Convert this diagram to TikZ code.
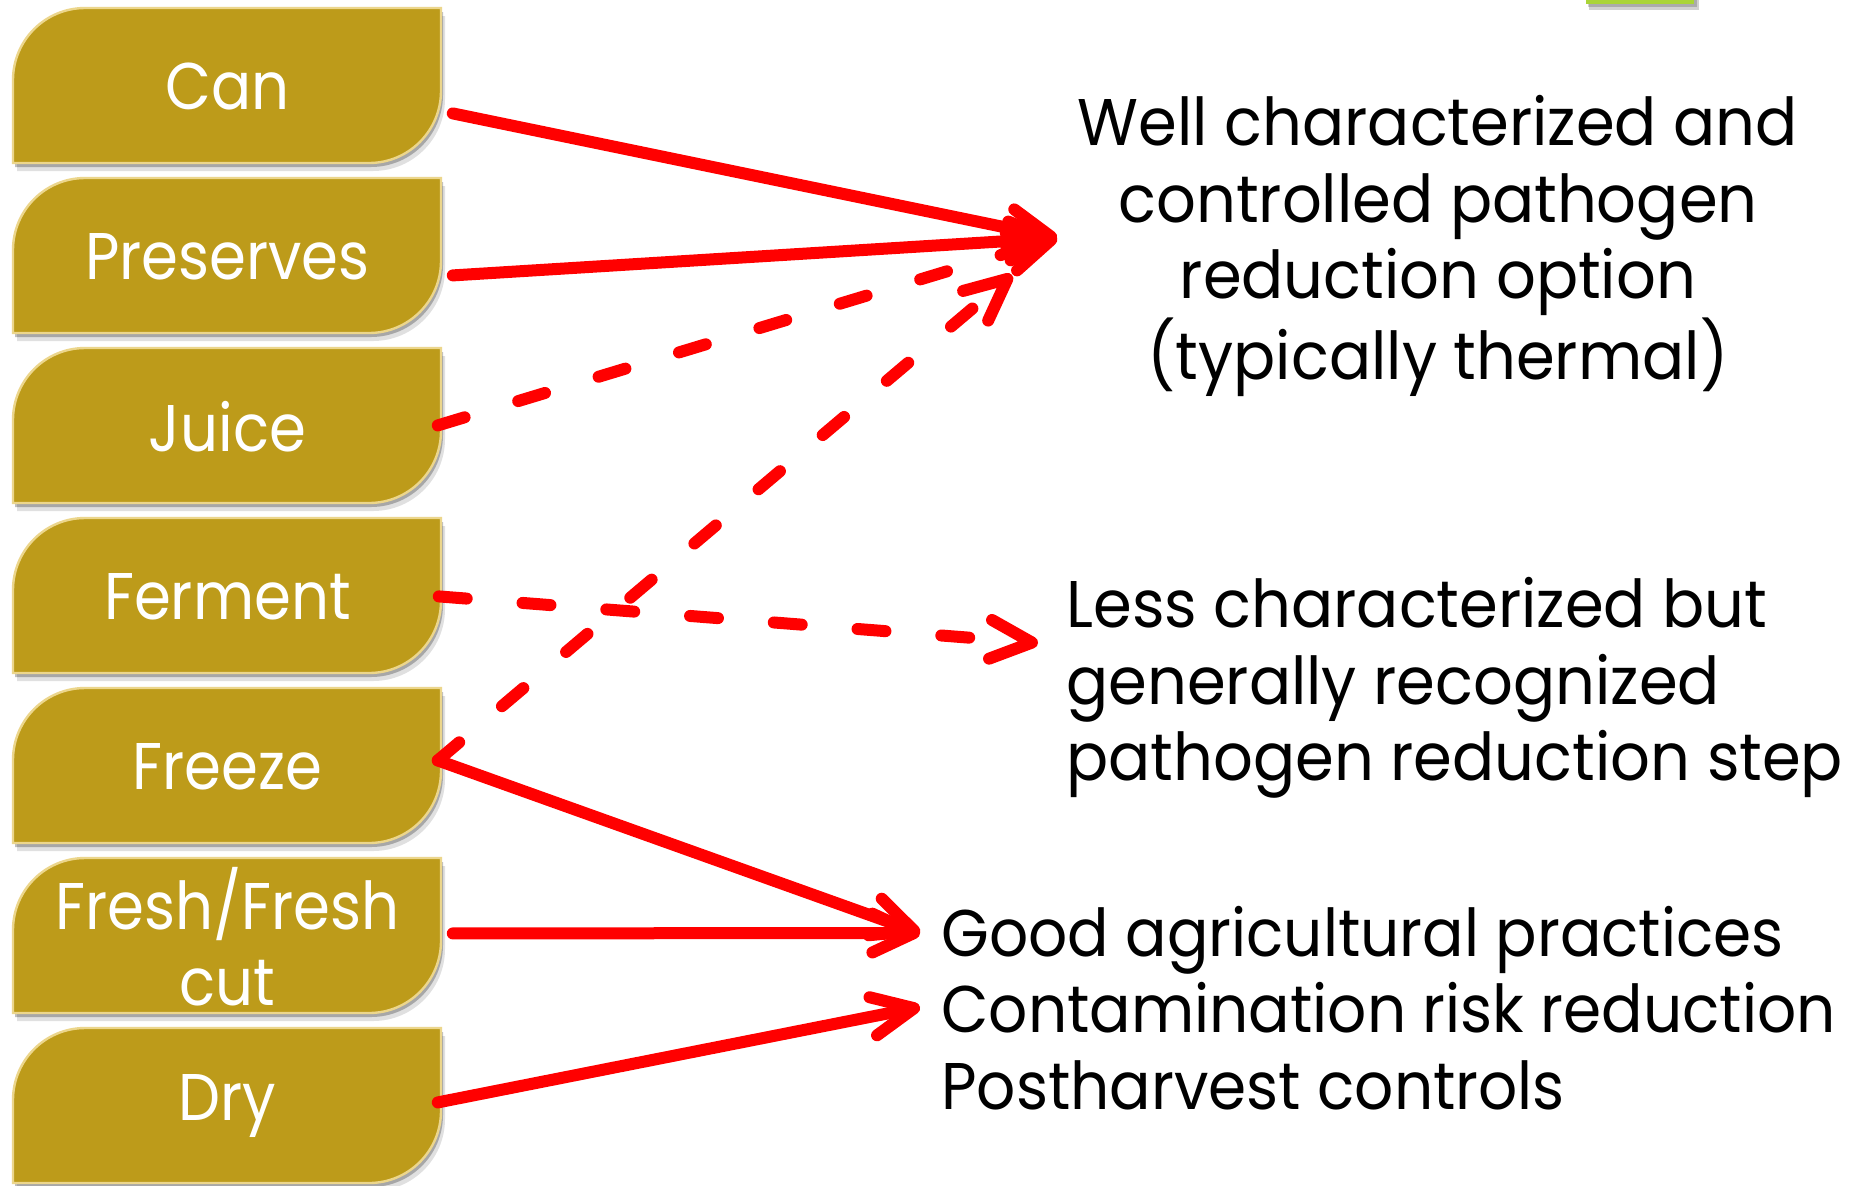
\documentclass[tikz,border=0pt]{standalone}
\usepackage{fontspec}
\setmainfont{Poppins}
\newfontfamily\boxfont{Poppins}[FakeStretch=0.9]
\newfontfamily\rfont{Poppins}[FakeStretch=0.945]
\newfontfamily\gfont{Poppins}[FakeStretch=0.93]
\usetikzlibrary{arrows.meta}
\definecolor{gold}{RGB}{189,155,26}
\definecolor{goldedge}{RGB}{236,214,140}
\definecolor{lime}{RGB}{170,212,56}
\begin{document}
\begin{tikzpicture}[x=0.5pt,y=-0.5pt,
  boxtext/.style={minimum width=214pt,minimum height=78pt,inner sep=0pt,anchor=north west,text=white,font=\boxfont\fontsize{33}{38}\selectfont,align=center},
  arr/.style={draw=red,line width=6pt,line cap=round,line join=round,-{Straight Barb[length=20.8pt,width=19.4pt,line cap=round,line join=round]}},
  dashedarr/.style={arr,dash pattern=on 14pt off 28pt},
  rtext/.style={font=\rfont\fontsize{33}{38.2}\selectfont,inner sep=0pt,text=black}
]
\useasboundingbox (0,0) rectangle (1851,1185);
\fill[white] (0,0) rectangle (1851,1185);
% small green tab at top right
\fill[black,opacity=0.18] (1589,0) rectangle (1699,10);
\fill[black,opacity=0.18] (1588,0) rectangle (1697,7);
\fill[lime] (1586,-5) rectangle (1694,4);
% box shapes
\foreach \t in {8,178,348,518,688,858,1028}{
  \begin{scope}[shift={(4,8)}]
    \fill[black,opacity=0.12] (13,\t+155) -- (13,\t+72) arc[start angle=180,end angle=90,radius=36pt] -- (441,\t) -- (441,\t+83) arc[start angle=0,end angle=-90,radius=36pt] -- cycle;
  \end{scope}
  \begin{scope}[shift={(2,4)}]
    \fill[black,opacity=0.25] (13,\t+155) -- (13,\t+72) arc[start angle=180,end angle=90,radius=36pt] -- (441,\t) -- (441,\t+83) arc[start angle=0,end angle=-90,radius=36pt] -- cycle;
  \end{scope}
  \filldraw[fill=gold,draw=goldedge,line width=1.2pt] (13,\t+155) -- (13,\t+72) arc[start angle=180,end angle=90,radius=36pt] -- (441,\t) -- (441,\t+83) arc[start angle=0,end angle=-90,radius=36pt] -- cycle;
}
% box labels
\node[boxtext] (can) at (13,8) {Can};
\node[boxtext] (pres) at (13,178) {Preserves};
\node[boxtext] (juice) at (13,348) {Juice};
\node[boxtext] (ferm) at (13,518) {Ferment};
\node[boxtext] (freeze) at (13,688) {Freeze};
\node[boxtext] (fresh) at (13,858) {Fresh/Fresh\\cut};
\node[boxtext] (dry) at (13,1028) {\raisebox{-4pt}{Dry}};
% right texts
\node[rtext,align=center] (well) at (1438,246) {Well characterized and\\controlled pathogen\\reduction option\\(typically thermal)};
\node[rtext,align=left,anchor=west] (less) at (1066,688) {Less characterized but\\generally recognized\\pathogen reduction step};
\node[rtext,font=\gfont\fontsize{33}{38.2}\selectfont,align=left,anchor=west] (good) at (941,1008) {Good agricultural practices\\Contamination risk reduction\\Postharvest controls};
% arrow tips
\coordinate (tipA) at (1057,238);
\coordinate (tipB) at (1012,275);
\coordinate (tipC) at (1038,643);
\coordinate (tipD) at (920,933);
\coordinate (tipE) at (920,1007);
% connectors
\draw[dashedarr] ([shift={(-4,-1)}]juice.east) -- (tipA);
\draw[dashedarr] ([shift={(-3,0)}]ferm.east) -- (tipC);
\draw[dashedarr] ([shift={(-4,-6)}]freeze.east) -- (tipB);
\draw[arr] ([shift={(11,27)}]can.east) -- (tipA);
\draw[arr] ([shift={(11,19)}]pres.east) -- (tipA);
\draw[arr] ([shift={(-4,-6)}]freeze.east) -- (tipD);
\draw[arr] ([shift={(11,-3)}]fresh.east) -- (tipD);
\draw[arr] ([shift={(-4,-4)}]dry.east) -- (tipE);
\end{tikzpicture}
\end{document}
